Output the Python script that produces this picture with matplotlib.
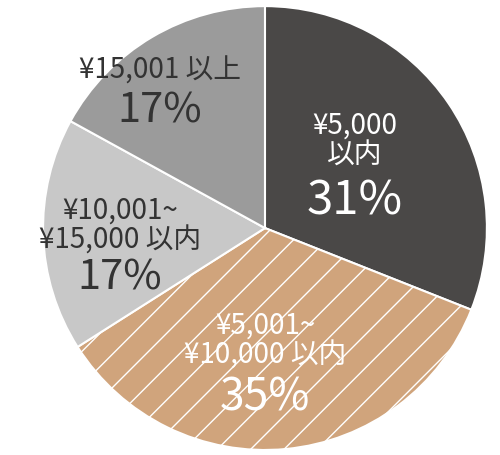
import matplotlib
matplotlib.use('Agg')
import matplotlib.pyplot as plt
plt.rcParams['font.family'] = ['Noto Sans CJK JP', 'DejaVu Sans']
plt.rcParams['hatch.color'] = '#e2c09e'
plt.rcParams['hatch.linewidth'] = 1.0

labels = ['¥5,000\n以内', '¥5,001~\n¥10,000 以内', '¥10,001~\n¥15,000 以内', '¥15,001 以上']
values = [31, 35, 17, 17]
colors = ['#4a4847', '#d0a47c', '#c8c8c8', '#9b9b9b']
textcol = ['white', 'white', '#333333', '#333333']

fig = plt.figure(figsize=(5.0, 4.55), dpi=100)
ax = fig.add_axes([0, 0, 1, 1])
wedges, _ = ax.pie(values, colors=colors, startangle=90, counterclock=False,
                   wedgeprops=dict(edgecolor='white', linewidth=1.5))
wedges[1].set_hatch('/')
ax.set_xlim(-1.194, 1.059)
ax.set_ylim(-1.022, 1.027)
ax.set_aspect('equal')
ax.axis('off')

def py(p):
    return (227 - p) / 222.0

# (x px, label bottom px, percent centre px, percent fontsize)
pos = [(355, 170, 200, 34), (265, 370, 397, 32), (120, 255, 277, 30), (160, 85, 110, 30)]
for (x, lb, pc, fs), lab, c in zip(pos, labels, textcol):
    xd = (x - 265) / 222.0
    ax.text(xd, py(lb), lab, ha='center', va='bottom', fontsize=20, color=c, linespacing=1.0)
    ax.text(xd, py(pc), f'{values[labels.index(lab)]}%', ha='center', va='center', fontsize=fs, color=c)
fig.savefig('out.png')
